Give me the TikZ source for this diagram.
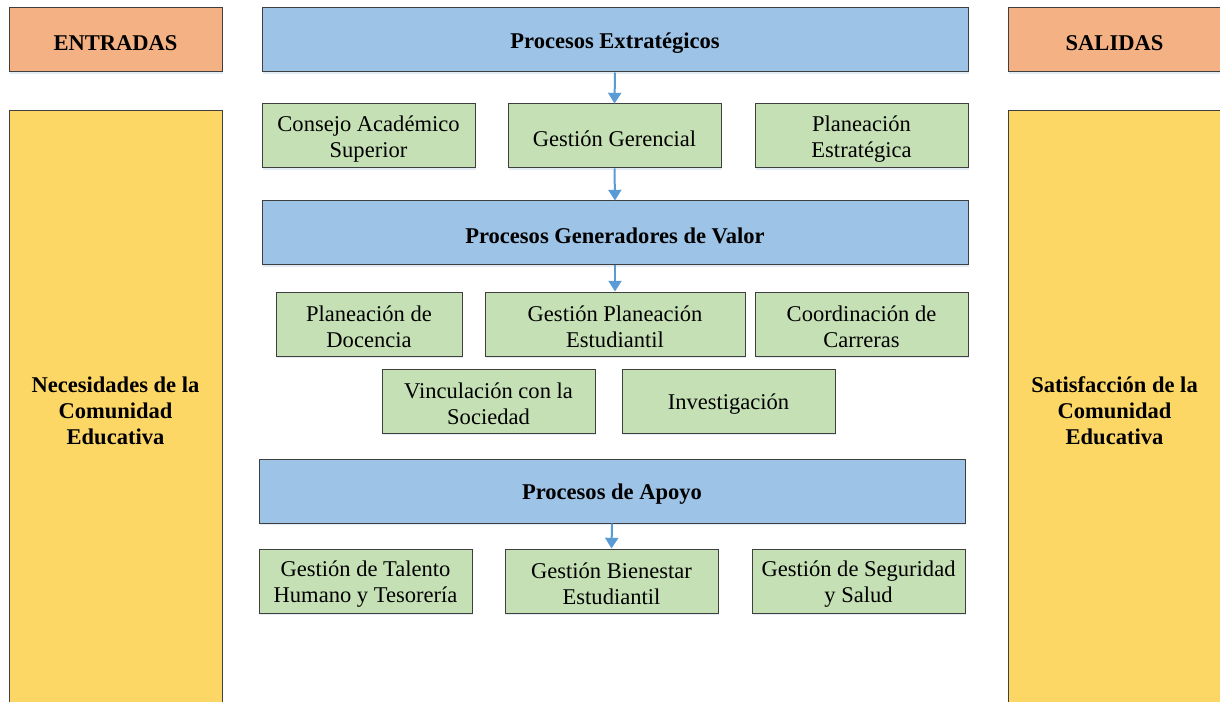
\documentclass[tikz,border=0pt]{standalone}
\usepackage{fontspec}
\setmainfont{Liberation Serif}
\usetikzlibrary{arrows.meta,shadows}
\definecolor{orangeF}{HTML}{F4B183}
\definecolor{blueF}{HTML}{9DC3E6}
\definecolor{greenF}{HTML}{C5E0B4}
\definecolor{yellowF}{HTML}{FDD766}
\definecolor{edgeC}{HTML}{3F3F3F}
\definecolor{arrowC}{HTML}{5B9BD5}
\definecolor{shadowC}{HTML}{DCE6F2}
\tikzset{
  base/.style={draw=edgeC, line width=0.75pt, rectangle, inner sep=0pt,
    minimum height=48pt,
    drop shadow={shadow xshift=1pt, shadow yshift=-1.5pt, fill=shadowC, opacity=0.8}},
  txt/.style={align=center, yshift=-2.2pt, font=\fontsize{16.9}{19.5}\selectfont, inner sep=0pt},
  btxt/.style={txt, font=\fontsize{16.9}{19.5}\selectfont\bfseries},
  head/.style={base, fill=orangeF, minimum width=159.75pt},
  band/.style={base, fill=blueF, minimum width=529.5pt},
  item/.style={base, fill=greenF, minimum width=159.75pt},
  side/.style={base, fill=yellowF, minimum width=159.75pt, minimum height=445.5pt},
  flow/.style={draw=arrowC, line width=1.5pt, -{Triangle[width=9.75pt,length=8pt]}}
}
\begin{document}
\begin{tikzpicture}[x=0.75pt,y=-0.75pt]
\useasboundingbox (0,0) rectangle (1220,702);
\clip (0,0) rectangle (1220,702);
\fill[white] (0,0) rectangle (1220,702);
% headers
\node[head, label={[btxt]center:{ENTRADAS}}] (ent) at (115.5,40) {};
\node[band, label={[btxt]center:{Procesos Extratégicos}}] (pe) at (615,40) {};
\node[head, label={[btxt]center:{SALIDAS}}] (sal) at (1114.5,40) {};
% sides
\node[side, label={[btxt]center:{Necesidades de la\\Comunidad\\Educativa}}] (nec) at (115.5,408) {};
\node[side, label={[btxt]center:{Satisfacción de la\\Comunidad\\Educativa}}] (sat) at (1114.5,408) {};
% strategic
\node[item, label={[txt]center:{Consejo Académico\\Superior}}] (cas) at (368.5,136) {};
\node[item, label={[txt]center:{Gestión Gerencial}}] (gg) at (614.5,136) {};
\node[item, label={[txt]center:{Planeación\\Estratégica}}] (pest) at (861.5,136) {};
% value
\node[band, label={[btxt]center:{Procesos Generadores de Valor}}] (pgv) at (615,233) {};
\node[item, minimum width=139.5pt, label={[txt]center:{Planeación de\\Docencia}}] (pd) at (369,324) {};
\node[item, minimum width=195pt, label={[txt]center:{Gestión Planeación\\Estudiantil}}] (gpe) at (615,324) {};
\node[item, label={[txt]center:{Coordinación de\\Carreras}}] (cc) at (861.5,324) {};
\node[item, label={[txt]center:{Vinculación con la\\Sociedad}}] (vs) at (488.5,401) {};
\node[item, label={[txt]center:{Investigación}}] (inv) at (728.5,401) {};
% support
\node[band, label={[btxt]center:{Procesos de Apoyo}}] (pa) at (612,491) {};
\node[item, label={[txt]center:{Gestión de Talento\\Humano y Tesorería}}] (gth) at (365.5,581) {};
\node[item, label={[txt]center:{Gestión Bienestar\\Estudiantil}}] (gbe) at (611.5,581) {};
\node[item, label={[txt]center:{Gestión de Seguridad\\y Salud}}] (gss) at (858.5,581) {};
% arrows
\draw[flow] (pe.south) -- (gg.north);
\draw[flow] (gg.south) -- (pgv.north);
\draw[flow] (pgv.south) -- (gpe.north);
\draw[flow] (pa.south) -- (gbe.north);
\end{tikzpicture}
\end{document}
